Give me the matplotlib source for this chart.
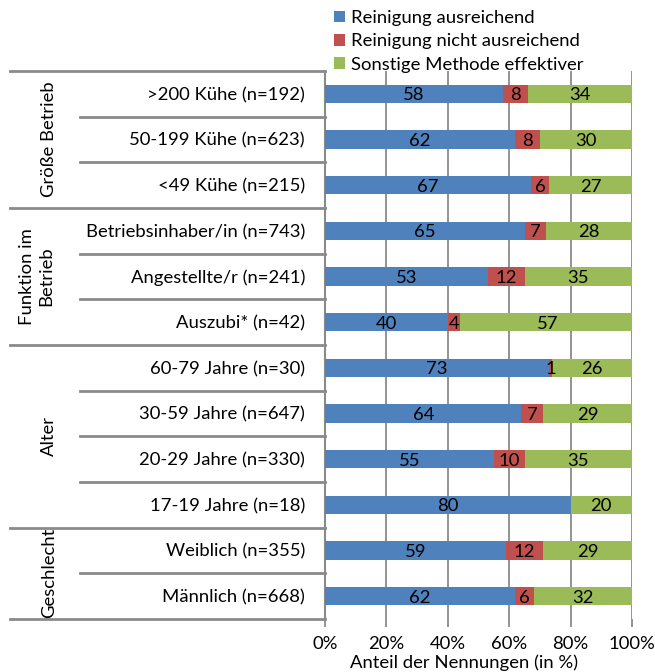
import matplotlib.pyplot as plt
import numpy as np

plt.rcParams['font.family'] = ['Lato', 'DejaVu Sans']

# data, top to bottom
categories = ['>200 Kühe (n=192)', '50-199 Kühe (n=623)', '<49 Kühe (n=215)',
              'Betriebsinhaber/in (n=743)', 'Angestellte/r (n=241)', 'Auszubi* (n=42)',
              '60-79 Jahre (n=30)', '30-59 Jahre (n=647)', '20-29 Jahre (n=330)',
              '17-19 Jahre (n=18)', 'Weiblich (n=355)', 'Männlich (n=668)']
ausreichend = [58, 62, 67, 65, 53, 40, 73, 64, 55, 80, 59, 62]
nicht_ausreichend = [8, 8, 6, 7, 12, 4, 1, 7, 10, 0, 12, 6]
sonstige = [34, 30, 27, 28, 35, 57, 26, 29, 35, 20, 29, 32]
series_names = ['Reinigung ausreichend', 'Reinigung nicht ausreichend',
                'Sonstige Methode effektiver']
colors = ['#4F81BD', '#C0504D', '#9BBB59']

groups = ['Größe Betrieb', 'Funktion im\nBetrieb', 'Alter', 'Geschlecht']
group_sizes = [3, 3, 4, 2]

fs = 13.3
W, H = 655, 672
fig = plt.figure(figsize=(W / 100, H / 100), dpi=100)
top, bottom = 71, 619
ax = fig.add_axes([325 / W, (H - bottom) / H, (632 - 325) / W, (bottom - top) / H])
tab = fig.add_axes([10 / W, (H - bottom) / H, (325 - 10) / W, (bottom - top) / H])

grid_c = '#8a8a8a'
y = np.arange(len(categories))
left = np.zeros(len(categories))
for vals, name, c in zip([ausreichend, nicht_ausreichend, sonstige], series_names, colors):
    vals = np.array(vals, dtype=float)
    ax.barh(y, vals, left=left, height=0.4, color=c, label=name, zorder=3)
    for yi, l, v in zip(y, left, vals):
        if v > 0:
            ax.text(l + v / 2, yi + 0.03, '%d' % v, ha='center', va='center', fontsize=fs,
                    color='black', zorder=4)
    left += vals

ax.set_xlim(0, 100)
ax.set_ylim(len(categories) - 0.5, -0.5)
ax.set_xticks(np.arange(0, 101, 20))
ax.set_xticklabels(['%d%%' % v for v in range(0, 101, 20)], fontsize=fs)
ax.xaxis.grid(True, color=grid_c, linewidth=1.3, zorder=0)
ax.tick_params(axis='x', length=6, width=1.3, color=grid_c, pad=6)
ax.set_yticks([])
for s in ['top', 'right', 'bottom']:
    ax.spines[s].set_visible(False)
ax.spines['left'].set_color(grid_c)
ax.spines['left'].set_linewidth(1.5)
fig.text(464 / W, (H - 663) / H, 'Anteil der Nennungen (in %)', ha='center',
         va='center', fontsize=fs)

fig.legend(loc='upper left', bbox_to_anchor=(334 / W, (H - 10) / H), frameon=False,
           fontsize=fs, handlelength=0.6, handleheight=0.6, handletextpad=0.3,
           labelspacing=0.4, borderaxespad=0, borderpad=0)

# left category table
tab.set_xlim(10, 325)
tab.set_ylim(len(categories) - 0.5, -0.5)
tab.axis('off')
bounds = np.concatenate([[0], np.cumsum(group_sizes)])
for b in bounds:
    tab.plot([10, 325], [b - 0.5, b - 0.5], color=grid_c, linewidth=2, clip_on=False)
for g, (s, e) in enumerate(zip(bounds[:-1], bounds[1:])):
    for r in range(s + 1, e):
        tab.plot([80, 325], [r - 0.5, r - 0.5], color=grid_c, linewidth=2, clip_on=False)
    xg = 37 if '\n' in groups[g] else 49
    tab.text(xg, (s + e - 1) / 2, groups[g], rotation=90, ha='center', va='center',
             fontsize=fs, linespacing=1.25)
for yi, cat in zip(y, categories):
    tab.text(305, yi + 0.03, cat, ha='right', va='center', fontsize=fs)

fig.savefig('out.png', dpi=100)
